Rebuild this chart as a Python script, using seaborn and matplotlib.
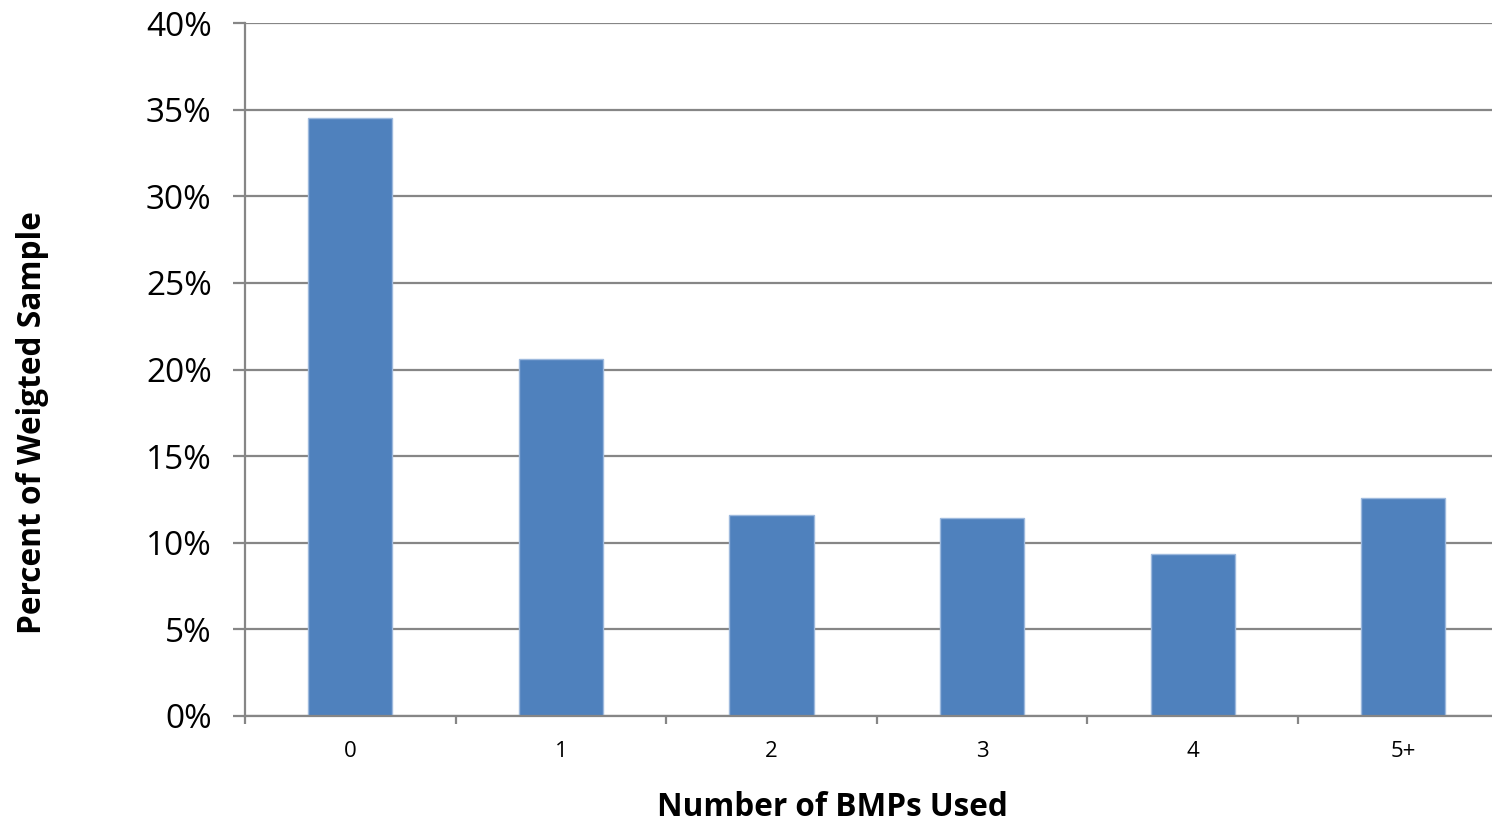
import matplotlib
matplotlib.use("Agg")
import matplotlib.pyplot as plt
import seaborn as sns
import pandas as pd
from matplotlib.ticker import FuncFormatter, FixedLocator

categories = ["0", "1", "2", "3", "4", "5+"]
percent = [34.5, 20.6, 11.6, 11.4, 9.35, 12.6]

sns.set_theme(style="white")
plt.rcParams["font.family"] = ["Open Sans", "DejaVu Sans"]
plt.rcParams["text.color"] = "black"
plt.rcParams["xtick.color"] = "black"
plt.rcParams["ytick.color"] = "black"

df = pd.DataFrame({"bmps": categories, "pct": percent})

fig = plt.figure(figsize=(14.92, 8.25), dpi=100)
W, H = 1492, 825
ax = fig.add_axes([245 / W, 109 / H, 1263.6 / W, 693 / H])

grid_c = "#868686"
sns.barplot(data=df, x="bmps", y="pct", ax=ax, color="#4F81BD", width=0.4,
            saturation=1, edgecolor="#9DB9DD", linewidth=1.0, zorder=3)

ax.set_xlim(-0.5, 5.5)
ax.set_ylim(0, 40)
ax.set_yticks(range(0, 41, 5))
ax.yaxis.set_major_formatter(FuncFormatter(lambda v, p: f"{int(v)}%"))
ax.yaxis.grid(True, color=grid_c, linewidth=1.6, zorder=0)
ax.set_axisbelow(True)

ax.tick_params(axis="y", which="major", direction="out", length=9, width=1.6,
               color=grid_c, labelcolor="black", labelsize=24, pad=15, left=True)
ax.tick_params(axis="x", which="major", length=0, labelsize=16, labelcolor="black",
               pad=18)
ax.xaxis.set_minor_locator(FixedLocator([i - 0.5 for i in range(7)]))
ax.tick_params(axis="x", which="minor", direction="out", length=6, width=1.6,
               color=grid_c, bottom=True)

for side in ["top", "right"]:
    ax.spines[side].set_visible(False)
for side in ["left", "bottom"]:
    ax.spines[side].set_color(grid_c)
    ax.spines[side].set_linewidth(1.6)
    ax.spines[side].set_zorder(4)

ax.set_xlabel("")
ax.set_ylabel("")
fig.text(832 / W, 1 - 808 / H, "Number of BMPs Used", ha="center", va="center",
         fontsize=22.7, fontweight="bold", color="black")
fig.text(33 / W, 1 - 423 / H, "Percent of Weigted Sample", ha="center", va="center",
         rotation=90, fontsize=22.8, fontweight="bold", color="black")

fig.savefig("out.png", dpi=100)
